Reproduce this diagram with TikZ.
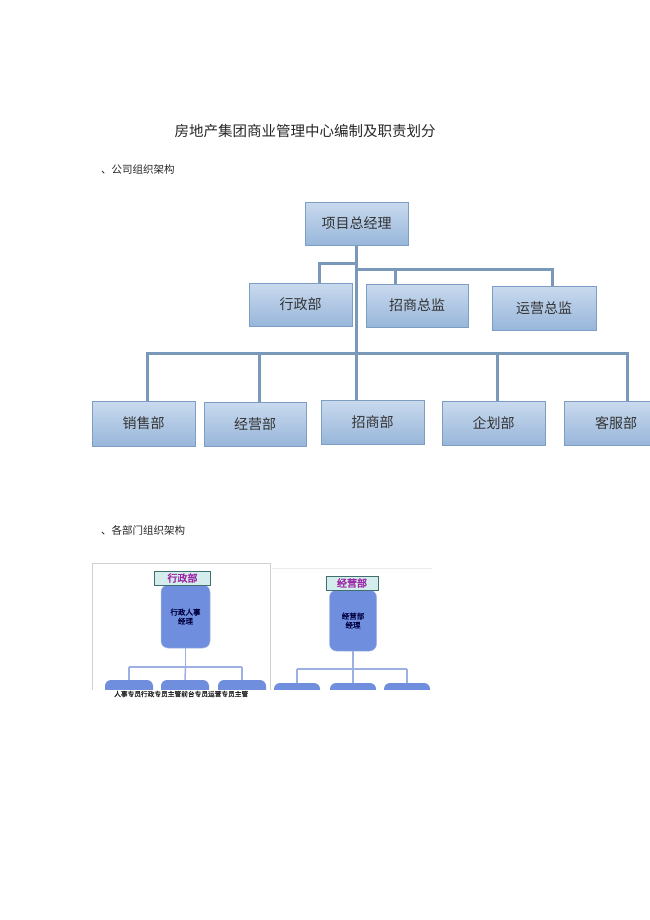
\documentclass[tikz,border=0pt]{standalone}
\usepackage{fontspec}
\newfontfamily\cjk{Noto Sans CJK SC}
\newfontfamily\cjkb[FakeBold=2]{Noto Sans CJK SC}
\newfontfamily\cjkm[FakeBold=1]{Noto Sans CJK SC}
\definecolor{boxtop}{HTML}{C9DAEE}
\definecolor{boxbot}{HTML}{98B6DA}
\definecolor{boxline}{HTML}{7E9DC2}
\definecolor{connc}{HTML}{7A98BA}
\definecolor{labfill}{HTML}{D4ECEB}
\definecolor{labline}{HTML}{3F6F6E}
\definecolor{labtext}{HTML}{9A1FA3}
\definecolor{rbfill}{HTML}{6F8EDD}
\definecolor{rbline}{HTML}{A9B8E6}
\definecolor{thinc}{HTML}{9DB0E2}
\definecolor{framec}{HTML}{D0D0D0}
\begin{document}
\begin{tikzpicture}[x=1pt,y=-1pt,
  every node/.style={font=\cjk, inner sep=0pt},
  orgbox/.style={draw=boxline, line width=1pt, top color=boxtop, bottom color=boxbot,
    minimum width=103pt, minimum height=43pt, font=\cjk\fontsize{14}{16}\selectfont, text=black!80},
  conn/.style={draw=connc, line width=3pt},
  labbox/.style={draw=labline, line width=0.8pt, fill=labfill, minimum width=56pt, minimum height=14pt,
    font=\cjkb\fontsize{10}{11}\selectfont, text=labtext},
  rbox/.style={fill=rbfill, draw=rbline, line width=0.5pt, rounded corners=7pt, minimum width=49pt, minimum height=63pt,
    font=\cjkm\fontsize{7.5}{9}\selectfont, text=black!75!blue, align=center},
  sbox/.style={fill=rbfill, rounded corners=6pt, minimum width=48pt, minimum height=20pt},
  thin/.style={draw=thinc, line width=1.5pt},
  heading/.style={font=\cjk\fontsize{10.5}{12}\selectfont, anchor=west, text=black!85}
]
\useasboundingbox (0,0) rectangle (649,920);
\fill[white] (0,0) rectangle (649,920);

% titles
\node[font=\cjk\fontsize{14.5}{16}\selectfont, text=black!85] (title) at (305,131) {房地产集团商业管理中心编制及职责划分};
\node[heading] (h1) at (101,170) {、公司组织架构};
\node[heading] (h2) at (101,530) {、各部门组织架构};

% level 1
\node[orgbox] (gm) at (356.5,223.5) {项目总经理};
% level 2
\node[orgbox] (xz) at (300.5,304.5) {行政部};
\node[orgbox, minimum width=102pt] (zszj) at (417,305.5) {招商总监};
\node[orgbox, minimum width=104pt, minimum height=44pt] (yyzj) at (544,308) {运营总监};
% level 3
\node[orgbox, minimum height=45pt] (xs) at (143.5,423.5) {销售部};
\node[orgbox, minimum width=102pt, minimum height=44pt] (jy) at (255,424) {经营部};
\node[orgbox, minimum height=44pt] (zs) at (372.5,422) {招商部};
\node[orgbox, minimum height=44pt] (qh) at (493.5,423) {企划部};
\node[orgbox, minimum height=44pt] (kf) at (616,423) {客服部};

% connector points
\coordinate (l2a) at (319,263);
\coordinate (l2b) at (395,269);
\coordinate (l2c) at (552,269);
\coordinate (b1) at (147,353);
\coordinate (b2) at (259,353);
\coordinate (b4) at (497,353);
\coordinate (b5) at (627,353);

% trunk
\draw[conn] (gm.south) -- (gm.south |- zs.north);
% level-2 branches
\draw[conn] (xz.north -| l2a) -- (l2a) -- (l2a -| gm.south);
\draw[conn] (gm.south |- l2b) -- (l2c) -- (l2c |- yyzj.north);
\draw[conn] (l2b) -- (l2b |- zszj.north);
% bus
\draw[conn] (b1 |- xs.north) -- (b1) -- (b5) -- (b5 |- kf.north);
\draw[conn] (b2) -- (b2 |- jy.north);
\draw[conn] (b4) -- (b4 |- qh.north);

% ---------- lower section ----------
\begin{scope}
\clip (80,555) rectangle (440,689);
\draw[framec, line width=0.8pt] (92,700) -- (92,563) -- (270,563) -- (270,700);
\draw[black!8, line width=0.6pt] (272,568) -- (432,568);

% left panel
\node[rbox] (m1) at (185.5,616.5) {行政人事\\经理};
\node[labbox] (lab1) at (182.5,578) {行政部};
\node[sbox] (s11) at (129,690) {};
\node[sbox] (s12) at (185,690) {};
\node[sbox] (s13) at (242,690) {};
\coordinate (j1) at (185.5,667);
\draw[thin] (m1.south) -- (j1);
\draw[thin] (s11.north |- j1) -- (s13.north |- j1);
\draw[thin] (s11.north |- j1) -- (s11.north);
\draw[thin] (s13.north |- j1) -- (s13.north);
\draw[thin] (j1) -- (s12.north);

% right panel
\node[rbox, minimum width=47pt, minimum height=61pt] (m2) at (353,620.5) {经营部\\经理};
\node[labbox, minimum width=52pt] (lab2) at (352,583) {经营部};
\node[sbox, minimum width=46pt] (s21) at (297,693) {};
\node[sbox, minimum width=46pt] (s22) at (353,693) {};
\node[sbox, minimum width=46pt] (s23) at (407,693) {};
\coordinate (j2) at (353,669);
\draw[thin] (m2.south) -- (j2);
\draw[thin] (s21.north |- j2) -- (s23.north |- j2);
\draw[thin] (s21.north |- j2) -- (s21.north);
\draw[thin] (s23.north |- j2) -- (s23.north);
\draw[thin] (j2) -- (s22.north);
\end{scope}

\node[font=\cjkm\fontsize{6.7}{8}\selectfont, anchor=west, text=black!85] (sub) at (114,694) {人事专员行政专员主管前台专员运营专员主管};
\end{tikzpicture}
\end{document}
